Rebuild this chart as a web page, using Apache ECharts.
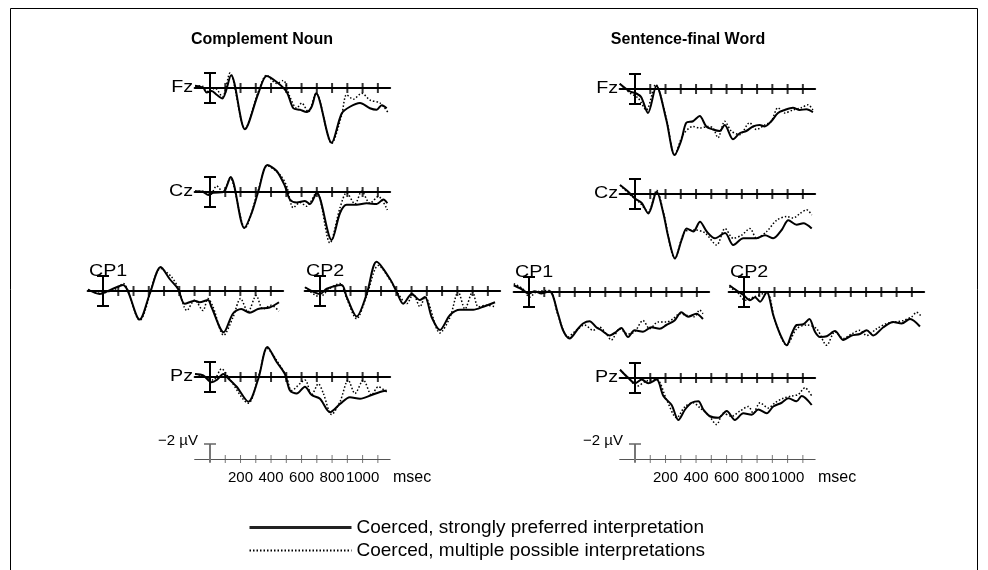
<!DOCTYPE html>
<html>
<head>
<meta charset="utf-8">
<script src="https://cdn.jsdelivr.net/npm/echarts@6/dist/echarts.min.js"></script>
<style>
html, body { margin: 0; padding: 0; background: #fff; }
#chart { width: 988px; height: 570px; }
</style>
</head>
<body>
<div id="chart"></div>
<script>
// axis ticks (ms), scale labels and calibration bars (µV)
const tickTimes = [100, 200, 300, 400, 500, 600, 700, 800, 900, 1000, 1100]
const scaleLabels = [200, 400, 600, 800, 1000]
const calBar = [-2, 2]
const scaleBar = [0.5, -2]

const LEG_STRONG = 'Coerced, strongly preferred interpretation'
const LEG_MULTI = 'Coerced, multiple possible interpretations'

// waveforms as [ms, µV] (negative is plotted up)
// Complement Noun
const fzNounStrong = [[-98,-0.3],[-44,0.0],[-22,0.6],[11,0.4],[44,0.9],[81,1.4],[138,-1.7],[229,5.5],[317,0.7],[371,-1.6],[437,-0.8],[502,0.5],[546,2.7],[590,2.9],[633,3.2],[666,2.5],[695,0.7],[797,7.3],[863,3.4],[917,2.5],[983,2.0],[1048,2.7],[1092,2.9],[1125,2.3],[1158,2.7]]
const fzNounMulti = [[-98,-0.3],[-44,-0.2],[-11,0.5],[33,0.0],[81,1.2],[131,-2.0],[229,5.4],[317,0.5],[371,-1.7],[437,-0.6],[480,-1.0],[524,1.2],[568,2.7],[601,2.0],[644,3.2],[695,0.7],[797,7.4],[863,3.6],[895,0.9],[939,1.5],[994,0.7],[1048,1.6],[1114,2.0],[1168,3.3]]
const czNounStrong = [[-98,-0.1],[-44,0.0],[-11,0.4],[22,0.1],[87,0.0],[135,-2.0],[225,4.8],[273,2.8],[317,-0.1],[376,-3.6],[437,-2.8],[491,-0.8],[524,1.0],[568,1.4],[622,1.2],[655,1.6],[699,0.1],[797,6.4],[852,2.8],[895,1.7],[961,1.7],[1026,1.5],[1092,1.6],[1136,1.0],[1162,1.5]]
const czNounMulti = [[-98,-0.1],[-33,-0.1],[0,0.4],[44,-0.8],[87,0.1],[131,-1.9],[229,4.8],[317,-0.3],[376,-3.5],[459,-2.3],[502,-0.8],[546,2.1],[590,1.4],[633,1.9],[699,0.0],[786,6.8],[852,2.1],[895,0.1],[950,1.6],[994,-0.1],[1048,1.5],[1103,0.6],[1162,2.4]]
const cp1NounStrong = [[-98,-0.2],[-22,0.4],[55,-0.2],[131,-0.8],[240,3.8],[306,0.4],[378,-3.2],[437,-1.6],[491,-0.3],[535,1.7],[601,1.3],[633,1.5],[688,1.2],[710,2.1],[791,5.5],[852,3.0],[906,2.4],[961,2.9],[1016,2.4],[1092,2.2],[1153,1.5]]
const cp1NounMulti = [[-98,-0.2],[-22,0.3],[87,-0.3],[131,-1.0],[240,3.9],[378,-3.0],[448,-1.9],[491,-0.5],[550,2.6],[601,1.2],[655,2.6],[688,1.0],[721,2.1],[791,5.9],[852,3.5],[902,1.0],[950,2.8],[1004,0.6],[1048,2.4],[1103,1.9],[1153,2.7]]
const cp2NounStrong = [[-98,-0.5],[-44,0.1],[0,0.4],[44,-0.3],[142,-0.8],[175,0.8],[240,3.4],[306,0.4],[371,-3.9],[459,-1.6],[502,0.1],[546,1.7],[601,0.4],[655,1.2],[688,0.8],[732,3.5],[786,5.2],[852,3.2],[917,2.5],[1004,2.5],[1070,2.1],[1147,1.5]]
const cp2NounMulti = [[-98,-0.5],[0,0.8],[55,-0.2],[131,-1.0],[175,1.0],[240,3.7],[306,0.6],[382,-3.4],[480,-0.8],[513,0.4],[568,1.7],[611,0.4],[655,2.1],[688,0.8],[786,5.6],[852,3.5],[906,0.1],[950,2.4],[1000,0.1],[1037,2.1],[1092,1.9],[1147,2.1]]
const pzNounStrong = [[-98,-0.4],[-44,-0.2],[11,0.7],[44,0.4],[87,-0.4],[120,0.2],[175,1.3],[251,3.3],[317,0.2],[376,-4.0],[437,-2.0],[491,-0.4],[524,1.8],[568,2.2],[622,1.3],[666,2.4],[721,2.9],[786,4.7],[852,3.6],[917,2.7],[983,2.9],[1059,2.4],[1114,2.0],[1158,1.8]]
const pzNounMulti = [[-98,-0.4],[-44,-0.1],[22,0.4],[76,-1.1],[120,0.0],[251,3.5],[317,0.0],[376,-3.8],[437,-2.2],[502,0.0],[535,1.8],[622,0.4],[666,2.4],[710,0.9],[743,2.2],[797,5.0],[852,3.3],[906,0.4],[950,2.2],[1005,0.4],[1059,2.4],[1103,1.3],[1158,2.0]]

// Sentence-final Word
const fzFinalStrong = [[-100,-0.7],[-35,0.3],[9,0.6],[41,1.1],[85,3.2],[140,-0.4],[205,4.1],[260,8.8],[304,6.8],[336,4.5],[380,4.3],[424,3.6],[467,5.0],[511,5.4],[555,5.6],[588,4.8],[642,6.7],[686,5.9],[729,5.6],[773,5.0],[817,4.8],[850,5.0],[893,4.3],[937,3.2],[981,2.8],[1035,2.5],[1079,2.8],[1123,2.7],[1166,3.1]]
const fzFinalMulti = [[-100,-0.7],[-35,0.5],[20,1.2],[74,2.8],[135,-0.6],[205,3.9],[260,8.8],[315,6.1],[380,5.0],[424,5.2],[478,5.0],[511,5.2],[544,6.5],[588,4.3],[631,5.6],[686,6.1],[751,4.5],[795,5.4],[850,4.8],[893,4.3],[937,2.5],[981,3.2],[1035,2.8],[1090,2.5],[1134,2.1],[1166,2.8]]
const czFinalStrong = [[-98,-1.2],[-44,-0.3],[0,0.6],[44,1.2],[87,2.6],[142,-0.3],[186,2.6],[218,5.7],[262,8.6],[306,6.1],[339,4.6],[382,5.0],[426,3.7],[470,5.0],[524,5.9],[590,5.2],[644,6.8],[710,5.9],[797,5.9],[852,5.5],[906,5.9],[961,4.8],[1005,3.5],[1059,4.1],[1103,3.9],[1158,4.6]]
const czFinalMulti = [[-98,-1.2],[-33,0.1],[33,1.2],[87,2.4],[142,-0.5],[186,2.4],[262,8.6],[328,5.0],[393,4.8],[459,5.2],[535,6.8],[590,4.6],[644,5.9],[699,5.5],[753,4.6],[797,5.9],[863,5.0],[928,3.5],[994,3.0],[1037,3.2],[1081,2.6],[1125,2.1],[1158,2.8]]
const cp1FinalStrong = [[-100,-0.9],[-50,-0.4],[0,0.2],[37,-0.1],[81,0.2],[135,-0.1],[190,2.9],[223,5.1],[266,6.2],[321,4.9],[354,4.2],[397,3.9],[441,4.7],[474,5.1],[529,5.8],[572,5.3],[605,4.8],[649,6.0],[692,5.1],[747,5.3],[802,4.7],[856,4.9],[900,4.4],[954,3.8],[998,2.7],[1042,3.3],[1096,2.9],[1140,3.6]]
const cp1FinalMulti = [[-100,-1.1],[-39,-0.4],[4,0.7],[48,0.0],[135,-0.2],[190,3.1],[256,6.0],[310,5.1],[365,4.4],[419,5.1],[463,4.7],[507,5.6],[539,6.4],[594,4.9],[649,5.6],[692,5.3],[747,3.8],[791,4.9],[845,4.0],[900,4.0],[943,3.6],[987,2.9],[1031,3.1],[1085,3.3],[1118,2.4],[1140,2.9]]
const cp2FinalStrong = [[-96,-0.9],[-48,-0.2],[-4,0.4],[39,1.1],[72,0.7],[105,1.3],[149,0.0],[192,3.1],[236,5.6],[280,7.1],[312,5.6],[345,4.4],[389,4.3],[428,3.6],[465,5.3],[498,6.0],[542,5.9],[596,5.2],[651,6.4],[705,5.8],[760,5.6],[804,5.1],[847,5.8],[913,4.7],[978,4.0],[1033,4.2],[1088,3.6],[1153,4.6]]
const cp2FinalMulti = [[-96,-0.7],[-37,0.2],[7,1.1],[61,0.7],[149,0.1],[203,3.8],[280,7.1],[345,4.9],[411,4.4],[476,4.9],[542,7.1],[596,5.3],[651,6.2],[705,5.6],[760,5.1],[804,5.8],[869,4.9],[935,4.2],[989,4.0],[1044,3.8],[1099,3.3],[1131,2.7],[1164,3.3]]
const pzFinalStrong = [[-98,-1.1],[-44,0.0],[0,0.7],[44,0.2],[87,0.7],[142,0.2],[186,2.4],[240,3.6],[284,5.6],[328,4.2],[371,3.3],[415,3.1],[448,4.2],[491,5.1],[546,5.3],[601,4.4],[655,5.6],[710,4.7],[764,4.9],[808,4.2],[863,4.7],[906,3.8],[961,3.3],[1005,2.7],[1059,3.1],[1092,2.4],[1158,3.6]]
const pzFinalMulti = [[-98,-1.1],[-33,0.2],[11,1.1],[76,0.4],[142,0.2],[207,2.9],[273,5.3],[328,3.8],[382,3.3],[426,4.0],[480,4.9],[535,6.2],[579,4.7],[633,5.1],[688,4.4],[743,3.8],[775,4.7],[819,3.3],[874,4.0],[917,3.3],[972,2.7],[1026,2.4],[1070,2.2],[1114,1.3],[1158,2.4]]

// layout: x0/y0 = pixel of t=0, 0 µV
const T_MIN = -100, T_MAX = 1180
const V_MIN = -6, V_MAX = 10
const PX_MS = 0.1526, PX_UV = 7.5
const FONT = '"Liberation Sans", Arial, sans-serif'

const panels = [
  { label: 'Fz',  x0: 210, y0: 88,  strong: fzNounStrong,  multi: fzNounMulti,  side: true },
  { label: 'Cz',  x0: 210, y0: 192, strong: czNounStrong,  multi: czNounMulti,  side: true },
  { label: 'CP1', x0: 103, y0: 291, strong: cp1NounStrong, multi: cp1NounMulti, side: false },
  { label: 'CP2', x0: 320, y0: 291, strong: cp2NounStrong, multi: cp2NounMulti, side: false },
  { label: 'Pz',  x0: 210, y0: 377, strong: pzNounStrong,  multi: pzNounMulti,  side: true },
  { label: 'Fz',  x0: 635, y0: 89,  strong: fzFinalStrong,  multi: fzFinalMulti,  side: true },
  { label: 'Cz',  x0: 635, y0: 194, strong: czFinalStrong,  multi: czFinalMulti,  side: true },
  { label: 'CP1', x0: 529, y0: 292, strong: cp1FinalStrong, multi: cp1FinalMulti, side: false },
  { label: 'CP2', x0: 744, y0: 292, strong: cp2FinalStrong, multi: cp2FinalMulti, side: false },
  { label: 'Pz',  x0: 635, y0: 378, strong: pzFinalStrong,  multi: pzFinalMulti,  side: true }
]
const scales = [{ x0: 210, y0: 459 }, { x0: 635, y0: 459 }]

const chart = echarts.init(document.getElementById('chart'))
const grid = [], xAxis = [], yAxis = [], series = []

const gridFor = (x0, y0, vMin, vMax) => ({
  left: x0 + T_MIN * PX_MS,
  top: y0 + vMin * PX_UV,
  width: (T_MAX - T_MIN) * PX_MS,
  height: (vMax - vMin) * PX_UV,
  outerBoundsMode: 'none'
})

panels.forEach((p, i) => {
  grid.push(gridFor(p.x0, p.y0, V_MIN, V_MAX))
  xAxis.push({
    gridIndex: i, type: 'value', min: T_MIN, max: T_MAX,
    axisLine: { onZero: true, lineStyle: { color: '#000', width: 2.2 } },
    axisTick: { show: false }, axisLabel: { show: false }, splitLine: { show: false }
  })
  yAxis.push({ gridIndex: i, type: 'value', min: V_MIN, max: V_MAX, inverse: true, show: false })

  // cross ticks on the zero line
  series.push({
    type: 'scatter', xAxisIndex: i, yAxisIndex: i, silent: true,
    data: tickTimes.map(t => [t, 0]),
    symbol: 'rect', symbolSize: [2, 10],
    itemStyle: { color: '#000' }
  })
  // calibration bar at stimulus onset
  series.push({
    type: 'line', xAxisIndex: i, yAxisIndex: i, silent: true,
    data: calBar.map(v => [0, v]),
    symbol: 'rect', symbolSize: [12, 2], showSymbol: true,
    itemStyle: { color: '#000' },
    lineStyle: { color: '#000', width: 2 }
  })
  series.push({
    name: LEG_MULTI, type: 'line', xAxisIndex: i, yAxisIndex: i, silent: true,
    data: p.multi, symbol: 'none', smooth: 0.3,
    itemStyle: { color: '#000' },
    lineStyle: { color: '#000', width: 1.5, type: [1.5, 2] }
  })
  series.push({
    name: LEG_STRONG, type: 'line', xAxisIndex: i, yAxisIndex: i, silent: true,
    data: p.strong, symbol: 'none', smooth: 0.3,
    itemStyle: { color: '#000' },
    lineStyle: { color: '#000', width: 2 }
  })
})

// amplitude / time scale: zero sits on the grid's bottom edge
scales.forEach((s, k) => {
  const i = panels.length + k
  grid.push(gridFor(s.x0, s.y0, -4, 0))
  xAxis.push({
    gridIndex: i, type: 'value', min: T_MIN, max: T_MAX,
    axisLine: { onZero: false, lineStyle: { color: '#555', width: 1.2 } },
    axisTick: { show: false },
    axisLabel: {
      customValues: scaleLabels, color: '#000', fontSize: 15, fontFamily: FONT, margin: 11,
      hideOverlap: false, formatter: v => String(v)
    },
    splitLine: { show: false }
  })
  yAxis.push({ gridIndex: i, type: 'value', min: -4, max: 0, inverse: true, show: false })
  series.push({
    type: 'scatter', xAxisIndex: i, yAxisIndex: i, silent: true, clip: false,
    data: tickTimes.map(t => [t, 0]),
    symbol: 'rect', symbolSize: [1, 8],
    itemStyle: { color: '#555' }
  })
  series.push({
    type: 'line', xAxisIndex: i, yAxisIndex: i, silent: true, clip: false,
    data: [
      { value: [0, scaleBar[0]], symbol: 'none' },
      { value: [0, scaleBar[1]], symbol: 'rect', symbolSize: [12, 1.5] }
    ],
    showSymbol: true,
    itemStyle: { color: '#666' },
    lineStyle: { color: '#777', width: 2 }
  })
})

const graphic = [
  { type: 'rect', silent: true, shape: { x: 10.5, y: 8.5, width: 967, height: 620 },
    style: { fill: 'none', stroke: '#000', lineWidth: 1 } },
  { type: 'text', x: 262, y: 40, silent: true,
    style: { text: 'Complement Noun', font: 'bold 16px ' + FONT, fill: '#000', textAlign: 'center', textVerticalAlign: 'middle' } },
  { type: 'text', x: 688, y: 40, silent: true,
    style: { text: 'Sentence-final Word', font: 'bold 16px ' + FONT, fill: '#000', textAlign: 'center', textVerticalAlign: 'middle' } }
]
panels.forEach(p => {
  graphic.push({
    type: 'text', silent: true, scaleX: 1.23,
    x: p.side ? p.x0 - 17 : p.x0 - 14,
    y: p.side ? p.y0 : p.y0 - 19,
    style: {
      text: p.label, font: '16px ' + FONT, fill: '#000',
      textAlign: p.side ? 'right' : 'left', textVerticalAlign: 'middle'
    }
  })
})
scales.forEach(s => {
  graphic.push({
    type: 'text', silent: true, x: s.x0 - 12, y: s.y0 - 18,
    style: { text: '\u22122 \u00b5V', font: '15px ' + FONT, fill: '#000', textAlign: 'right', textVerticalAlign: 'middle' }
  })
  graphic.push({
    type: 'text', silent: true, x: s.x0 + 183, y: s.y0 + 19,
    style: { text: 'msec', font: '16px ' + FONT, fill: '#000', textAlign: 'left', textVerticalAlign: 'middle' }
  })
})

chart.setOption({
  animation: false,
  backgroundColor: '#fff',
  grid, xAxis, yAxis, series, graphic,
  legend: {
    orient: 'vertical', left: 243, top: 513, height: 60,
    itemWidth: 102, itemHeight: 14, itemGap: 4,
    selectedMode: false,
    itemStyle: { opacity: 0 },
    textStyle: { color: '#000', fontSize: 19, fontFamily: FONT },
    data: [
      { name: LEG_STRONG, lineStyle: { width: 3, color: '#222' } },
      { name: LEG_MULTI }
    ]
  }
})
</script>
</body>
</html>
